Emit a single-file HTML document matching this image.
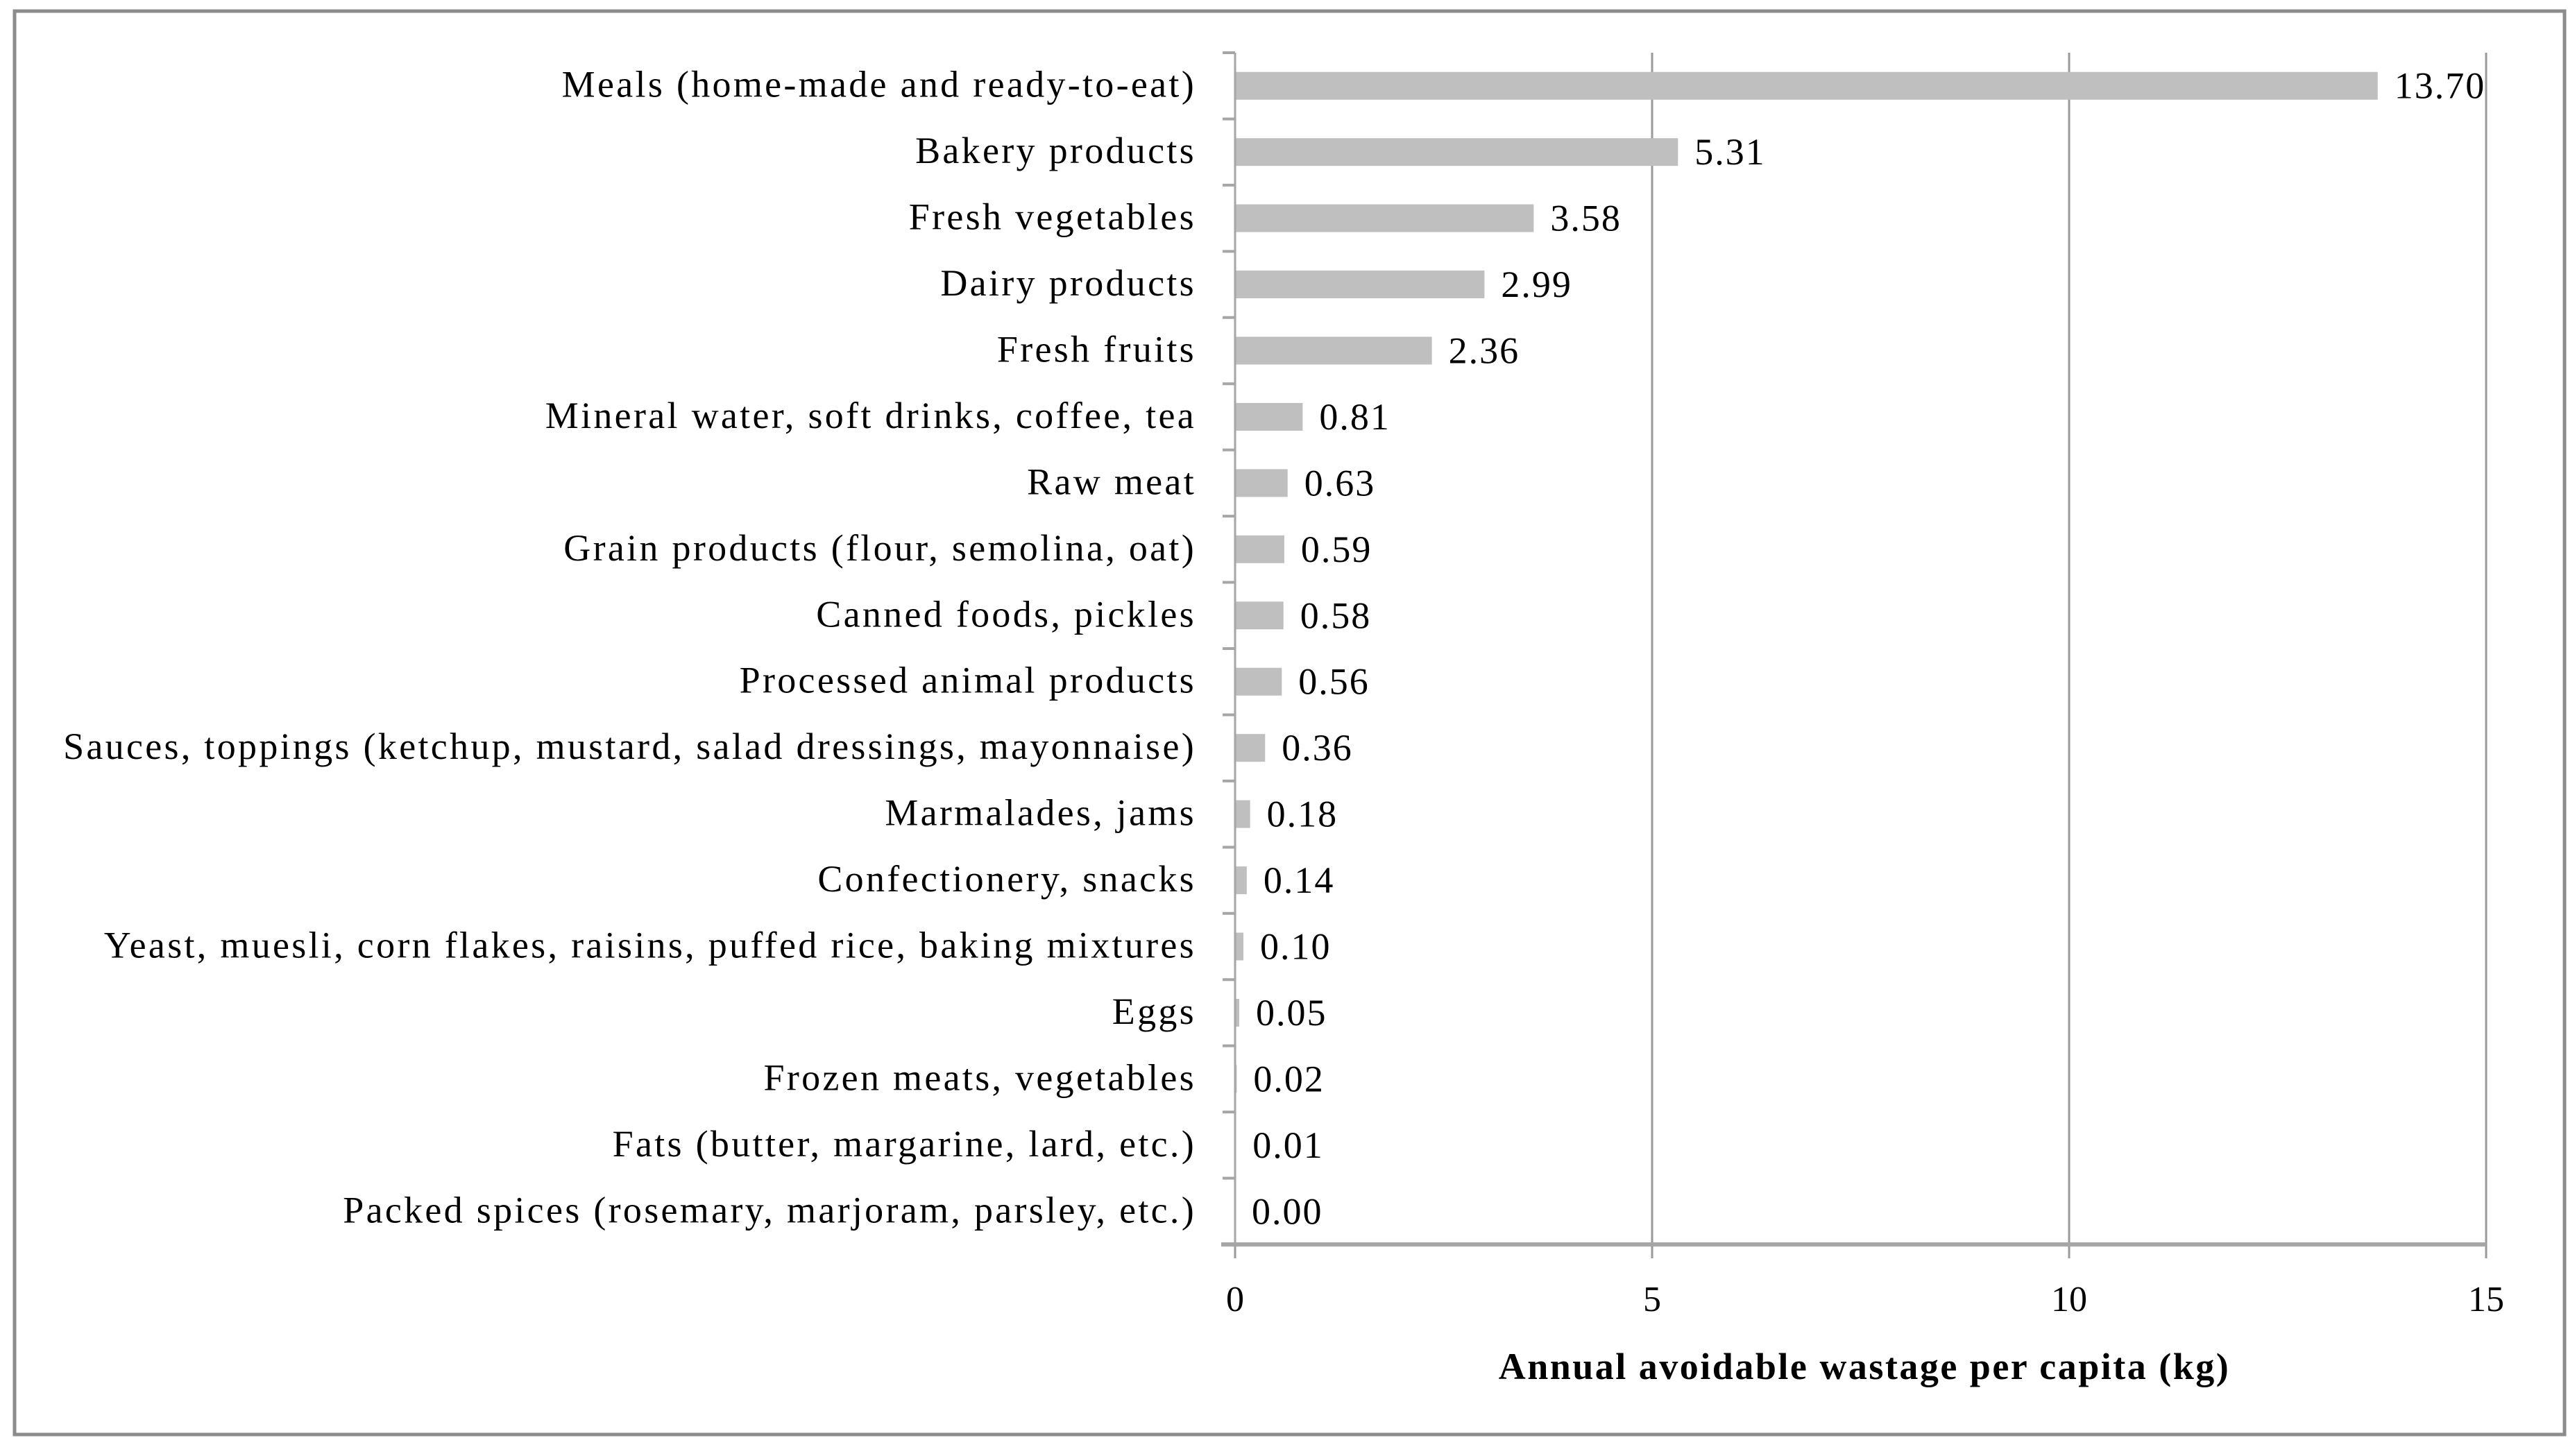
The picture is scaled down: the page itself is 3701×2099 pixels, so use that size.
<!DOCTYPE html>
<html><head><meta charset="utf-8"><style>
html,body{margin:0;padding:0;background:#fff;}
svg{display:block;}
text{font-family:"Liberation Serif",serif;fill:#000;}
</style></head><body>
<svg id="chart" width="3701" height="2099" viewBox="0 0 3701 2099" xmlns="http://www.w3.org/2000/svg">
<rect x="21" y="16" width="3675" height="2052" fill="#fff" stroke="#8c8c8c" stroke-width="5"/>
<g id="grid"></g><g id="bars"></g><g id="labels"></g><g id="axes"></g>
<text x="2687" y="1988" text-anchor="middle" font-size="54" font-weight="bold" letter-spacing="2.5">Annual avoidable wastage per capita (kg)</text>
</svg>
<script>
const categories = ["Meals (home-made and ready-to-eat)","Bakery products","Fresh vegetables","Dairy products","Fresh fruits","Mineral water, soft drinks, coffee, tea","Raw meat","Grain products (flour, semolina, oat)","Canned foods, pickles","Processed animal products","Sauces, toppings (ketchup, mustard, salad dressings, mayonnaise)","Marmalades, jams","Confectionery, snacks","Yeast, muesli, corn flakes, raisins, puffed rice, baking mixtures","Eggs","Frozen meats, vegetables","Fats (butter, margarine, lard, etc.)","Packed spices (rosemary, marjoram, parsley, etc.)"];
const values = [13.70,5.31,3.58,2.99,2.36,0.81,0.63,0.59,0.58,0.56,0.36,0.18,0.14,0.10,0.05,0.02,0.01,0.00];
const valueLabels = ["13.70","5.31","3.58","2.99","2.36","0.81","0.63","0.59","0.58","0.56","0.36","0.18","0.14","0.10","0.05","0.02","0.01","0.00"];
const xTicks = [0,5,10,15];
const NS="http://www.w3.org/2000/svg";
const X0=1780, X1=3583, XMAX=15, YT=76, YB=1794;
const band=(YB-YT)/categories.length;
function xs(v){return X0+(v/XMAX)*(X1-X0);}
function yc(i){return YT+band*(i+0.5);}
function mk(tag,attrs,parent){const e=document.createElementNS(NS,tag);for(const k in attrs)e.setAttribute(k,attrs[k]);parent.appendChild(e);return e;}
const grid=document.getElementById('grid'),bars=document.getElementById('bars'),labels=document.getElementById('labels'),axes=document.getElementById('axes');
xTicks.forEach(t=>{
  const l=mk('line',{x1:xs(t),x2:xs(t),y1:YT,y2:YB+20,stroke:'#9a9a9a','stroke-width':3},grid);
  
  
  const tx=mk('text',{x:xs(t),y:YB+96,'text-anchor':'middle','font-size':52},axes);
  tx.textContent=t;
  
  
});
const ax=mk('line',{x1:X0-20,x2:X1,y1:YB,y2:YB,stroke:'#a6a6a6','stroke-width':6},axes);


const ay=mk('line',{x1:X0,x2:X0,y1:YT,y2:YB,stroke:'#a6a6a6','stroke-width':3},axes);


for(let i=0;i<=categories.length;i++){
  const tk=mk('line',{x1:X0-18,x2:X0,y1:YT+band*i,y2:YT+band*i,stroke:'#a6a6a6','stroke-width':4},axes);
  
  
}
categories.forEach((c,i)=>{
  const h=40;
  const b=mk('rect',{x:X0,y:yc(i)-h/2,width:Math.max(0,xs(values[i])-X0),height:h,fill:'#bfbfbf'},bars);
  
  
  const t=mk('text',{x:1724,y:yc(i)+16,'text-anchor':'end','font-size':54,'letter-spacing':3.3},labels);
  t.textContent=c;
  
  
  const v=mk('text',{x:xs(values[i])+24,y:yc(i)+18,'font-size':54,'letter-spacing':2},labels);
  v.textContent=valueLabels[i];
  
  
});
</script>
</body></html>
